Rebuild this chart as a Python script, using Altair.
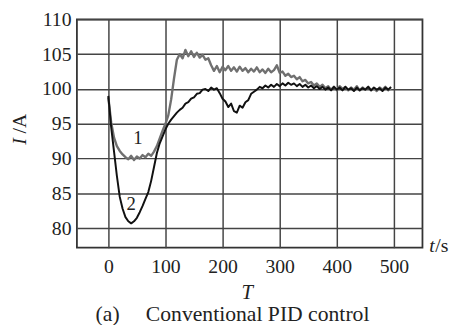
import altair as alt
import pandas as pd

t = list(range(0, 500, 5))

i1 = [98.8, 95.2, 93.0, 91.8, 91.1, 90.6, 90.2, 89.9, 90.4, 89.8,
      90.3, 90.0, 90.5, 90.2, 90.7, 90.4, 91.0, 91.8, 92.9, 94.0,
      95.0, 96.2, 98.5, 101.5, 104.2, 105.0, 104.4, 105.6, 104.7, 105.4,
      104.6, 105.2, 104.5, 104.9, 104.2, 104.4, 103.4, 102.6, 103.3, 102.4,
      103.2, 102.7, 103.3, 102.6, 103.1, 102.5, 103.2, 102.6, 103.0, 102.4,
      102.9, 102.5, 103.1, 102.4, 102.8, 102.3, 102.9, 102.4, 102.7, 103.4,
      102.3, 102.5, 101.9, 102.2, 101.7, 101.9, 101.4, 101.7, 101.1, 101.3,
      100.8, 101.0, 100.5, 100.8, 100.3, 100.6, 100.1, 100.4, 99.9, 100.3,
      99.8, 100.4, 100.0, 100.3, 99.8, 100.2, 99.9, 100.4, 99.8, 100.2,
      99.9, 100.3, 99.8, 100.1, 99.7, 100.2, 99.9, 100.3, 99.8, 100.1]

i2 = [99.0, 94.5, 91.0, 87.5, 84.5, 82.8, 81.6, 81.0, 80.7, 81.0,
      81.5, 82.3, 83.2, 84.2, 85.2, 86.8, 88.8, 90.8, 92.2, 93.2,
      94.2, 95.0, 95.6, 96.1, 96.6, 97.0, 97.3, 97.9, 98.1, 98.6,
      98.8, 99.3, 99.4, 99.9, 100.0, 99.7, 100.2, 99.9, 100.1, 99.4,
      98.6, 98.2, 97.4, 97.9, 96.8, 96.6, 97.6, 97.3, 98.1, 98.4,
      99.3, 99.6, 99.9, 100.3, 100.1, 100.5, 100.2, 100.6, 100.3, 100.7,
      100.4, 100.8, 100.5, 100.9, 100.6, 100.8, 100.4, 100.7, 100.3, 100.6,
      100.2, 100.5, 100.1, 100.4, 100.0, 100.3, 99.9, 100.2, 99.8, 100.3,
      99.9, 100.2, 99.8, 100.3, 99.9, 100.1, 99.7, 100.2, 99.8, 100.1,
      99.9, 100.3, 99.8, 100.2, 99.9, 100.1, 99.7, 100.2, 99.9, 100.3]

x_ticks = [0, 100, 200, 300, 400, 500]
y_ticks = [80, 85, 90, 95, 100, 105, 110]

curve_labels = ["1", "2"]
label_t = [52, 40]
label_i = [92.9, 83.4]

FONT = "Liberation Serif"

df = pd.DataFrame({"t": t + t, "I": i1 + i2,
                   "curve": ["1"] * len(t) + ["2"] * len(t)})

xs = alt.Scale(domain=[-55, 550], nice=False, zero=False)
ys = alt.Scale(domain=[77.2, 110], nice=False, zero=False)

xax = alt.Axis(values=x_ticks, title=None, grid=True, gridColor="#444", gridWidth=1.5,
               ticks=False, domain=False, labelFont=FONT, labelFontSize=20,
               labelColor="#222", labelPadding=9, labelOverlap=False)
yax = alt.Axis(values=y_ticks, title=None, grid=True, gridColor="#444", gridWidth=1.5,
               ticks=False, domain=False, labelFont=FONT, labelFontSize=20,
               labelColor="#222", labelPadding=6, labelOverlap=False)

lines = alt.Chart(df).mark_line(strokeJoin="round").encode(
    x=alt.X("t:Q", scale=xs, axis=xax),
    y=alt.Y("I:Q", scale=ys, axis=yax),
    color=alt.Color("curve:N", scale=alt.Scale(domain=["1", "2"], range=["#707070", "#111111"]),
                    legend=None),
    strokeWidth=alt.StrokeWidth("curve:N", scale=alt.Scale(domain=["1", "2"], range=[2.4, 2.0]),
                                legend=None),
    order=alt.Order("curve:N", sort="descending"),
)

lab_df = pd.DataFrame({"label": curve_labels, "t": label_t, "I": label_i})
labels = alt.Chart(lab_df).mark_text(font=FONT, fontSize=19, color="#222").encode(
    x=alt.X("t:Q", scale=xs, axis=xax), y=alt.Y("I:Q", scale=ys, axis=yax), text="label:N")

def txt(s, x, y, italic=False, angle=0, size=20, align="center"):
    kw = dict(font=FONT, fontSize=size, color="#222", align=align, baseline="middle")
    if italic:
        kw["fontStyle"] = "italic"
    if angle:
        kw["angle"] = angle
    return alt.Chart(pd.DataFrame({"s": [s]})).mark_text(**kw).encode(
        x=alt.value(x), y=alt.value(y), text="s:N")

extras = [
    txt("I", -58, 124, italic=True, angle=270),
    txt("/A", -58, 106, angle=270),
    txt("t", 358, 230, italic=True, align="left"),
    txt("/s", 364, 230, align="left"),
    txt("T", 173, 278, italic=True, size=21),
    txt("(a)", 19, 299, size=22, align="left"),
    txt("Conventional PID control", 70, 299, size=22, align="left"),
]

chart = alt.layer(lines, labels, *extras).properties(
    width=351, height=232,
    autosize=alt.AutoSizeParams(type="none"),
    padding={"left": 70, "top": 9, "right": 30, "bottom": 76},
    background="white",
).configure_view(stroke="#333", strokeWidth=1.8)

chart.save("out.html", embed_options={"renderer": "svg", "actions": False})
